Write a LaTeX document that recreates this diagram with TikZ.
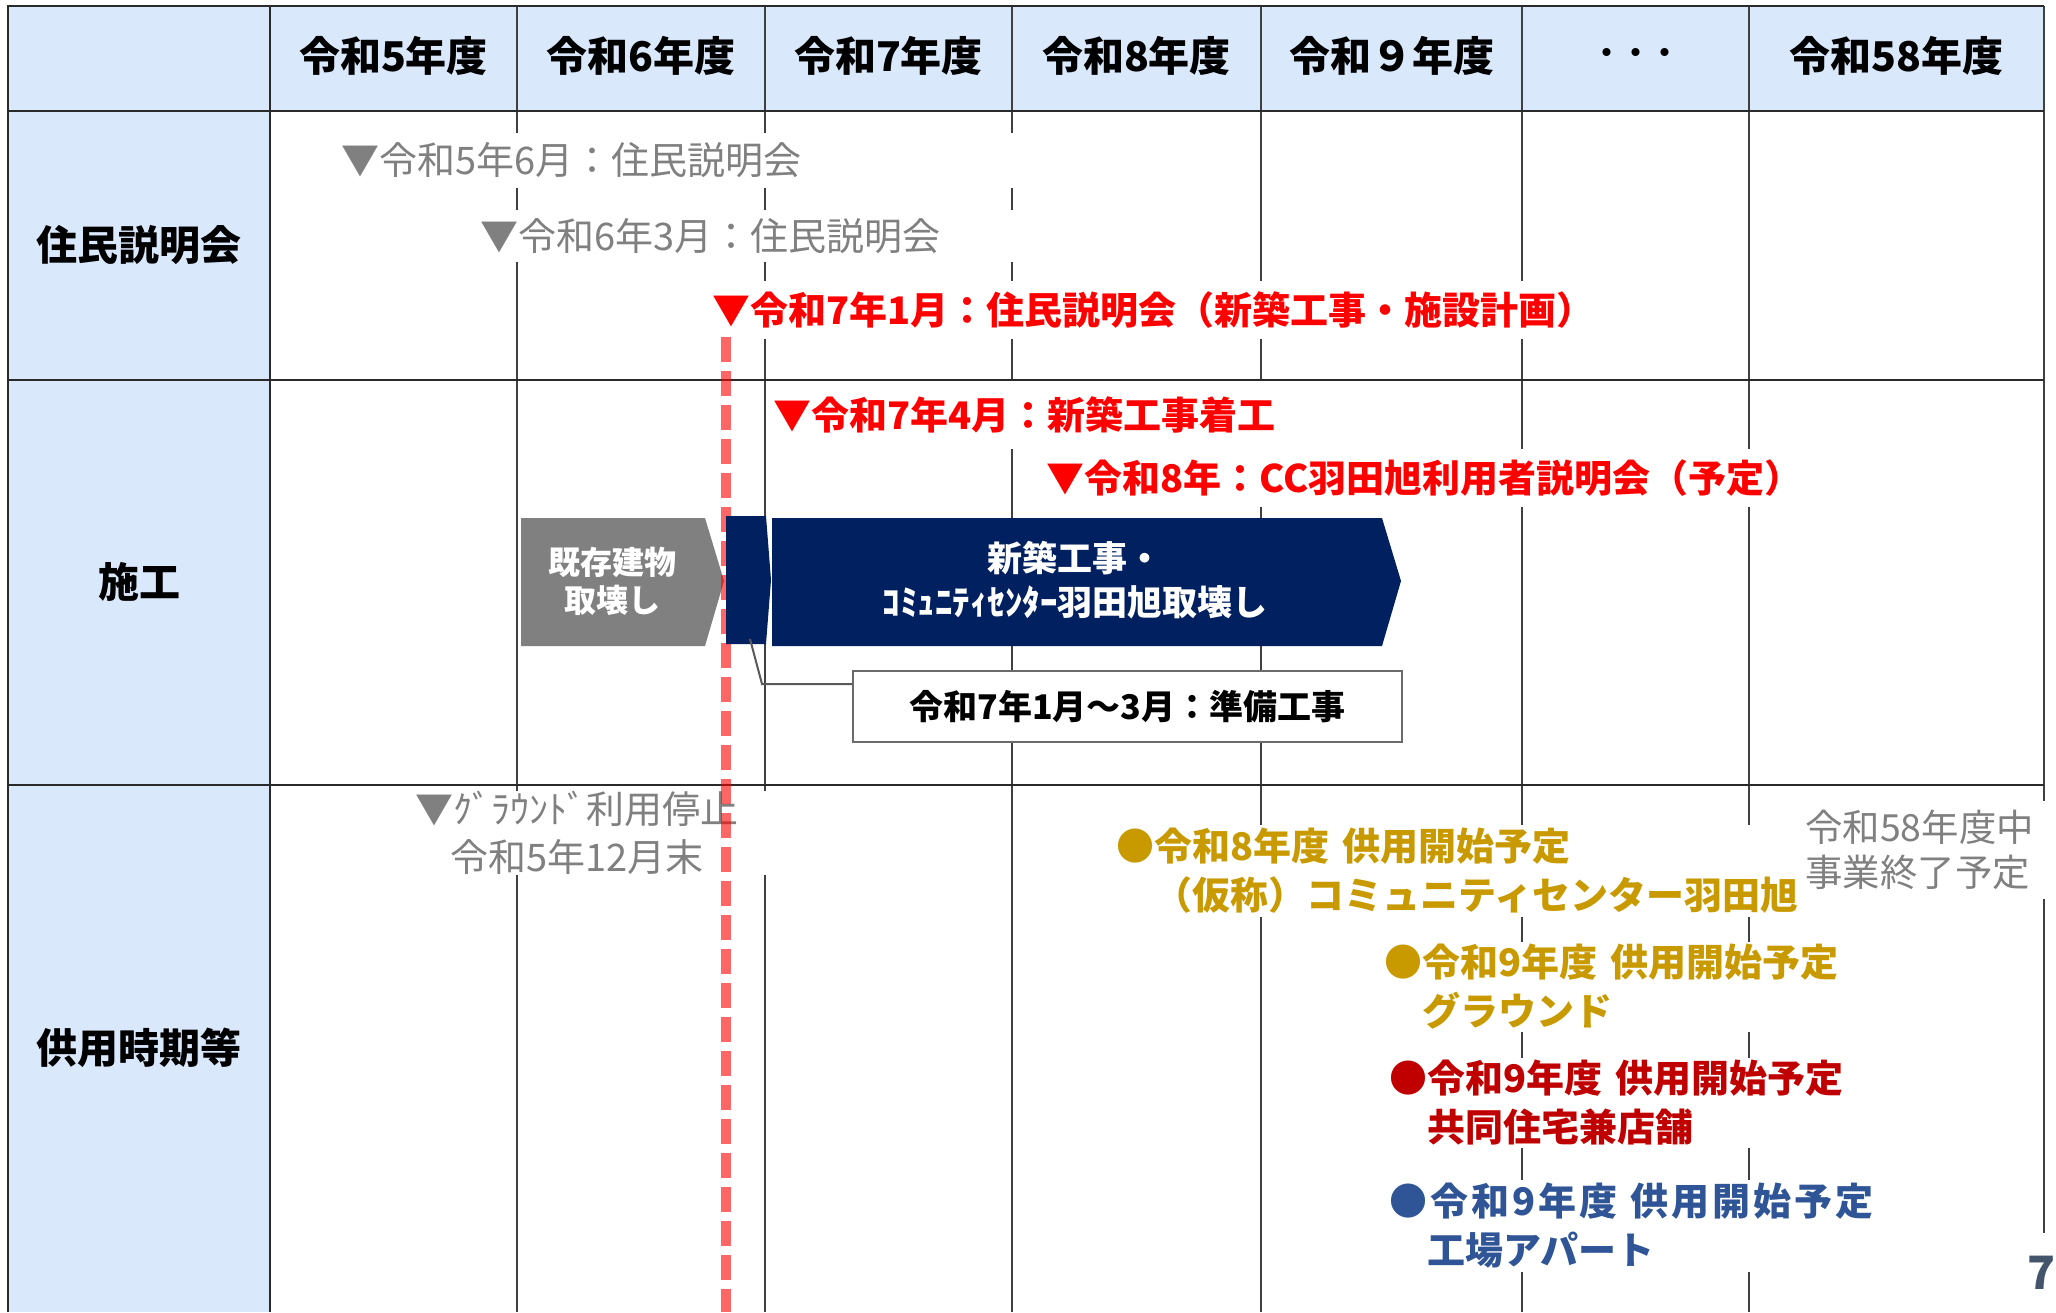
\documentclass[tikz,border=0pt]{standalone}
\usepackage{fontspec}
\setmainfont{Noto Sans CJK JP}
\definecolor{hdr}{HTML}{DAE8FC}
\definecolor{gridc}{HTML}{404040}
\definecolor{bordc}{HTML}{2A2A2A}
\definecolor{navy}{HTML}{002060}
\definecolor{gold}{HTML}{C99A00}
\definecolor{dred}{HTML}{C00000}
\definecolor{blu}{HTML}{2F5597}
\definecolor{gtext}{HTML}{808080}
\definecolor{garrow}{HTML}{808080}
\definecolor{pg}{HTML}{44546A}
\definecolor{calb}{HTML}{6B6B6B}
\definecolor{conn}{HTML}{595959}
\newcommand\fHead{\fontsize{20.5pt}{24pt}\selectfont\bfseries}
\newcommand\fBody{\fontsize{19pt}{24.5pt}\selectfont}
\newcommand\fBodyB{\fontsize{19pt}{24.5pt}\selectfont\bfseries}
\newcommand\fGray{\fontsize{19pt}{24pt}\selectfont}
\newcommand\fEnd{\fontsize{18.7pt}{22.5pt}\selectfont}
\newcommand\fArrow{\fontsize{16pt}{19pt}\selectfont\bfseries}
\newcommand\fNavy{\fontsize{17.5pt}{22pt}\selectfont\bfseries}
\newcommand\fCall{\fontsize{17pt}{20pt}\selectfont\bfseries}
\newcommand\fDots{\fontsize{14.5pt}{18pt}\selectfont\bfseries}
\newcommand\fPage{\fontsize{23pt}{26pt}\selectfont\bfseries}
\begin{document}
\begin{tikzpicture}[x=0.5pt,y=-0.5pt,
  tb/.style={fill=white, inner sep=0pt, anchor=west, align=left},
  hd/.style={font=\fHead, text=black, inner sep=0pt},
  vline/.style={draw=gridc, line width=0.6pt},
  hline/.style={draw=bordc, line width=0.7pt},
  connline/.style={draw=conn, line width=1pt}]
\useasboundingbox (0,0) rectangle (2056,1312);
\fill[white] (0,0) rectangle (2056,1312);
% fills
\fill[hdr] (8,6) rectangle (2044,111);
\fill[hdr] (8,111) rectangle (270,1312);
% vertical grid lines
\foreach \x in {517,765,1012,1261,1522,1749} \draw[vline] (\x,6) -- (\x,1312);
\draw[hline] (270,6) -- (270,1312);
\draw[draw=gridc, line width=0.9pt] (2044,6) -- (2044,1312);
% row 1 text boxes
\node[tb, text=gtext, font=\fGray, text width=349.5pt, minimum height=27.5pt] (t1) at (341,160.5) {▼令和5年6月：住民説明会};
\node[tb, text=gtext, font=\fGray, text width=275pt, minimum height=26pt] (t2) at (480,236) {▼令和6年3月：住民説明会};
\node[tb, text=red, font=\fBodyB, text width=444pt, minimum height=29pt] (t3) at (712,310) {▼令和7年1月：住民説明会（新築工事・施設計画）};
% row 2 text boxes
\node[tb, text=red, font=\fBodyB, text width=263.5pt, minimum height=34pt] (t4) at (773,415) {▼令和7年4月：新築工事着工};
\node[tb, text=red, font=\fBodyB, text width=377pt, minimum height=29pt] (t5) at (1046,478) {▼令和8年：CC羽田旭利用者説明会（予定）};
% row 3 text boxes
\node[fill=white, inner sep=0pt, align=center, text=gtext, font=\fGray, text width=196pt, minimum height=37.5pt] (t6) at (577,833) {▼ｸﾞﾗｳﾝﾄﾞ利用停止\\令和5年12月末};
\node[tb, text=gold, font=\fBodyB, text width=347pt, minimum height=46pt] (t7) at (1116,871) {●令和8年度 供用開始予定\\\phantom{●}（仮称）コミュニティセンター羽田旭};
\node[tb, text=gold, font=\fBodyB, text width=233pt, minimum height=45pt] (t8) at (1384,987) {●令和9年度 供用開始予定\\\phantom{●}グラウンド};
\node[tb, text=dred, font=\fBodyB, text width=230pt, minimum height=45pt] (t9) at (1389,1103) {●令和9年度 供用開始予定\\\phantom{●}共同住宅兼店舗};
\node[tb, text=blu, font=\fBodyB, text width=247.5pt, minimum height=46pt] (t10) at (1389,1226) {{\addfontfeatures{LetterSpace=8}●令和9年度 供用開始予定}\\\phantom{●}工場アパート};
\node[tb, text=gtext, font=\fEnd, text width=122.5pt, minimum height=49pt] (t11) at (1805,850) {令和58年度中\\事業終了予定};
\node[tb, text=pg, font=\fPage, minimum width=12pt, minimum height=39.5pt] (pgno) at (2027,1272.5) {7};
% horizontal lines and outer border
\foreach \y in {111,380,785} \draw[hline] (8,\y) -- (2044,\y);
\draw[hline] (8,1312) -- (8,6) -- (2044,6);
% gray arrow
\fill[garrow] (521,518) -- (705,518) -- (724,581) -- (705,646) -- (521,646) -- cycle;
\node[text=white, font=\fArrow, align=center, inner sep=0pt] (demo) at (612,581) {既存建物\\取壊し};
% red dashed line
\draw[red, opacity=0.6, line width=4.75pt, dash pattern=on 12.5pt off 4.5pt] (726,337) -- (726,1312);
% navy blocks
\fill[navy] (726,516) -- (766,516) -- (771,580) -- (766,644) -- (726,644) -- cycle;
\fill[navy] (772,518) -- (1382,518) -- (1401,581) -- (1382,646) -- (772,646) -- cycle;
\node[text=white, font=\fNavy, align=center, inner sep=0pt] (newb) at (1075,580) {新築工事・\\ｺﾐｭﾆﾃｨｾﾝﾀｰ羽田旭取壊し};
% callout
\node[draw=calb, line width=1pt, fill=white, minimum width=274.5pt, minimum height=35.5pt, inner sep=0pt, font=\fCall] (prep) at (1127.5,706.5) {令和7年1月～3月：準備工事};
\coordinate (prepfrom) at (750,639);
\coordinate (bend) at (762,684);
\draw[connline] (prepfrom) -- (bend) -- (bend -| prep.west);
% header texts
\node[hd] (h1) at (393.5,56) {令和5年度};
\node[hd] (h2) at (641,56) {令和6年度};
\node[hd] (h3) at (888.5,56) {令和7年度};
\node[hd] (h4) at (1136.5,56) {令和8年度};
\node[hd] (h5) at (1391.5,56) {令和９年度};
\node[hd, font=\fDots] (h6) at (1635.5,56) {・・・};
\node[hd] (h7) at (1896.5,56) {令和58年度};
% row labels
\node[hd] (r1) at (139,245.5) {住民説明会};
\node[hd] (r2) at (139,582) {施工};
\node[hd] (r3) at (139,1048) {供用時期等};
\end{tikzpicture}
\end{document}
